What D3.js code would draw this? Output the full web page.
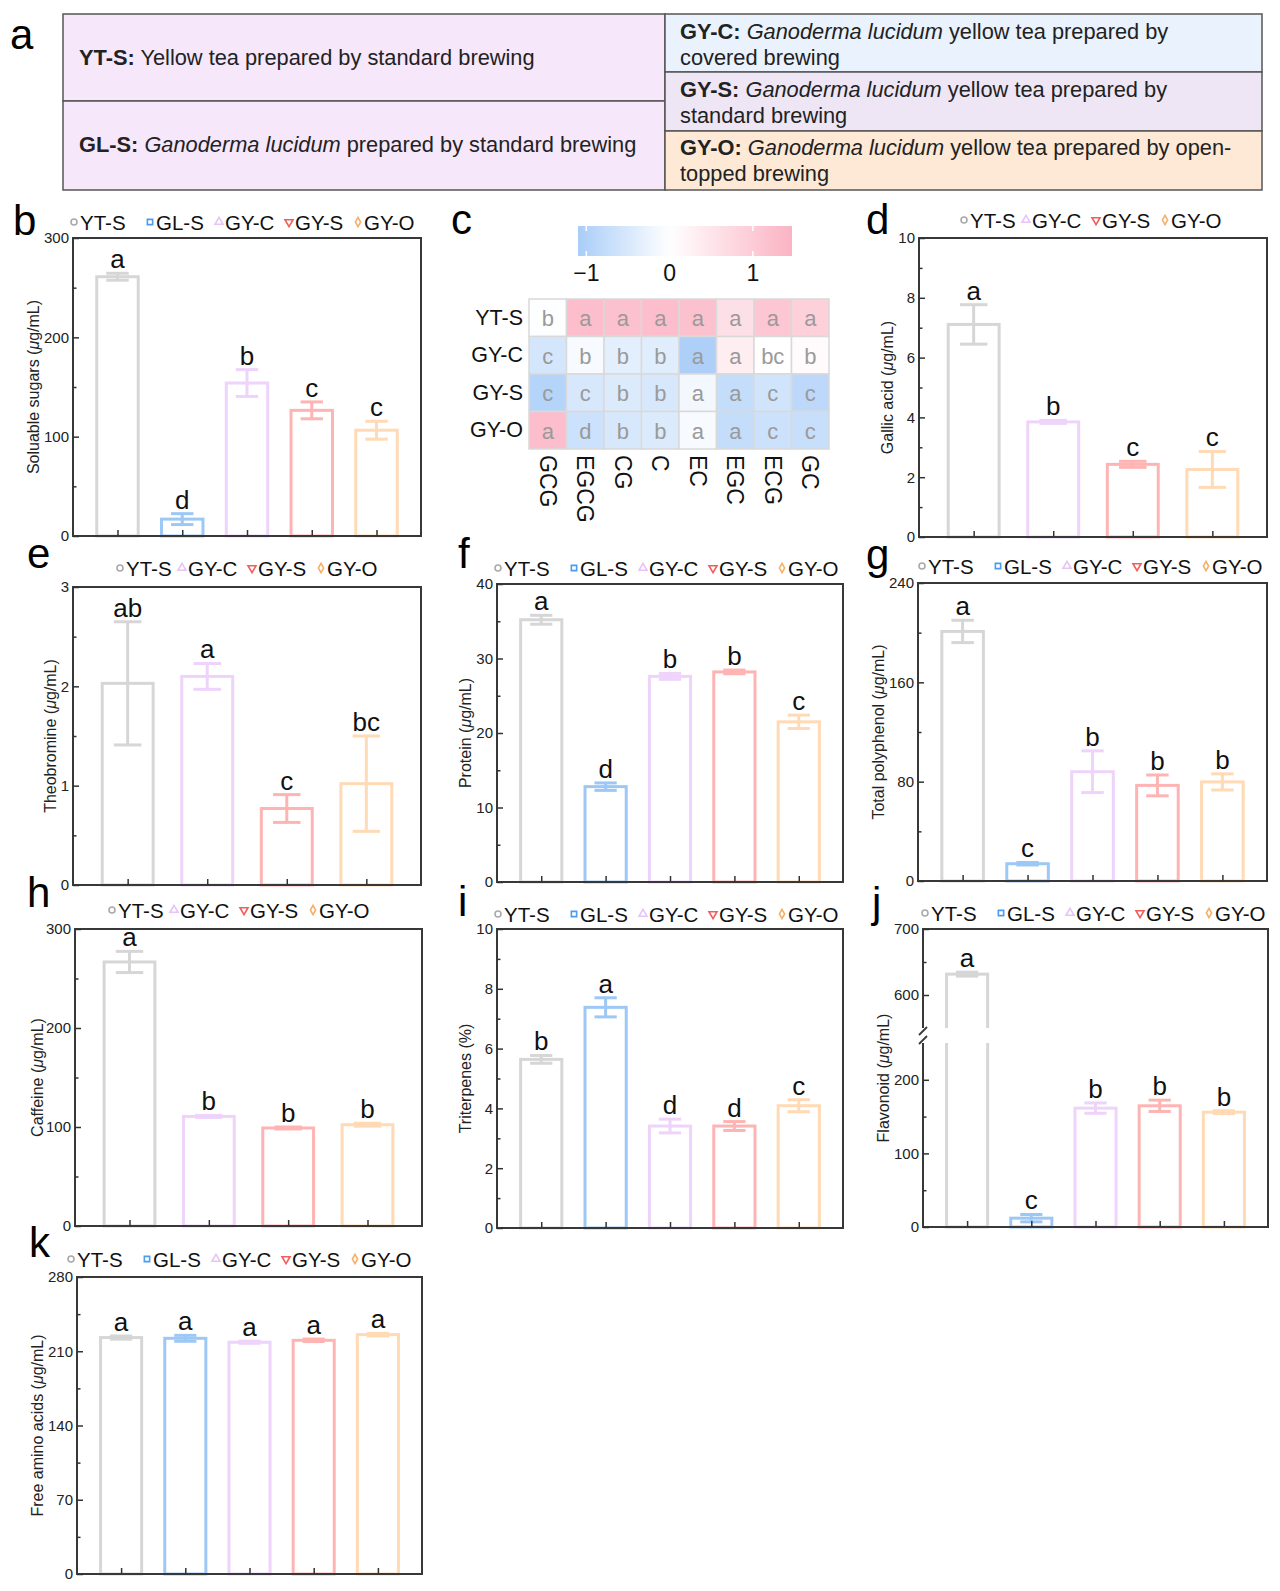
<!DOCTYPE html>
<html>
<head>
<meta charset="utf-8">
<script src="https://cdn.jsdelivr.net/npm/d3@7"></script>
<style>
  body { margin: 0; background: #fff; }
  svg { font-family: "Liberation Sans", Arial, sans-serif; }
</style>
</head>
<body>
<div id="fig"></div>
<script>
// ---- data ----
const groups5 = ["YT-S", "GL-S", "GY-C", "GY-S", "GY-O"];
const groups4 = ["YT-S", "GY-C", "GY-S", "GY-O"];

const sugarMean = [261, 17, 154, 126.5, 106.5];
const sugarErr = [3.5, 5.5, 13.5, 8.5, 9];
const sugarSig = ["a", "d", "b", "c", "c"];

const gallicMean = [7.11, 3.85, 2.43, 2.26];
const gallicErr = [0.66, 0.05, 0.1, 0.6];
const gallicSig = ["a", "b", "c", "c"];

const theoMean = [2.03, 2.10, 0.77, 1.02];
const theoErr = [0.62, 0.13, 0.14, 0.48];
const theoSig = ["ab", "a", "c", "bc"];

const proteinMean = [35.2, 12.8, 27.6, 28.2, 21.5];
const proteinErr = [0.6, 0.5, 0.4, 0.25, 0.9];
const proteinSig = ["a", "d", "b", "b", "c"];

const polyMean = [201, 13.9, 88, 77, 79.8];
const polyErr = [9, 1, 16.8, 8.4, 6.5];
const polySig = ["a", "c", "b", "b", "b"];

const caffMean = [266.7, 110.7, 99, 102.3];
const caffErr = [10.7, 1, 1, 1.5];
const caffSig = ["a", "b", "b", "b"];

const triMean = [5.64, 7.38, 3.41, 3.41, 4.09];
const triErr = [0.13, 0.32, 0.23, 0.15, 0.2];
const triSig = ["b", "a", "d", "d", "c"];

const flavMean = [631.6, 12, 161.5, 164.7, 156];
const flavErr = [3, 5, 7, 7.7, 2];
const flavSig = ["a", "c", "b", "b", "b"];

const aminoMean = [222.9, 222.2, 218.5, 220.3, 225.7];
const aminoErr = [1.5, 2.8, 1, 1.2, 1.2];
const aminoSig = ["a", "a", "a", "a", "a"];

// heatmap (row-scaled catechin values)
const catechins = ["GCG", "EGCG", "CG", "C", "EC", "EGC", "ECG", "GC"];
const heatRows = ["YT-S", "GY-C", "GY-S", "GY-O"];
const heatZ = [
  [-0.03, 1.25, 1.2, 1.25, 1.2, 0.6, 1.1, 0.9],
  [-0.55, -0.1, -0.35, -0.4, -1.05, 0.35, 0.0, 0.1],
  [-0.95, -0.5, -0.45, -0.5, -0.15, -0.75, -0.6, -0.85],
  [1.25, -0.65, -0.5, -0.45, -0.1, -0.75, -0.65, -0.7]
];
const heatSig = [
  ["b", "a", "a", "a", "a", "a", "a", "a"],
  ["c", "b", "b", "b", "a", "a", "bc", "b"],
  ["c", "c", "b", "b", "a", "a", "c", "c"],
  ["a", "d", "b", "b", "a", "a", "c", "c"]
];
const colorTicks = [-1, 0, 1];

// panel a texts: [text, style] segments, one array per line
const tableLines = {
  "YT-S": [[["YT-S:", "b"], [" Yellow tea prepared by standard brewing", "n"]]],
  "GL-S": [[["GL-S:", "b"], [" ", "n"], ["Ganoderma lucidum", "i"], [" prepared by standard brewing", "n"]]],
  "GY-C": [[["GY-C:", "b"], [" ", "n"], ["Ganoderma lucidum", "i"], [" yellow tea prepared by", "n"]], [["covered brewing", "n"]]],
  "GY-S": [[["GY-S:", "b"], [" ", "n"], ["Ganoderma lucidum", "i"], [" yellow tea prepared by", "n"]], [["standard brewing", "n"]]],
  "GY-O": [[["GY-O:", "b"], [" ", "n"], ["Ganoderma lucidum", "i"], [" yellow tea prepared by open-", "n"]], [["topped brewing", "n"]]]
};

const barColor = { "YT-S": "#d6d6d6", "GL-S": "#9dc8f6", "GY-C": "#eed3fa", "GY-S": "#ffb4b4", "GY-O": "#ffdab4" };
const markColor = { "YT-S": "#a9a9a9", "GL-S": "#4b9bf2", "GY-C": "#e6c4f7", "GY-S": "#f25d5d", "GY-O": "#f5b06a" };
const markType = { "YT-S": "circle", "GL-S": "square", "GY-C": "up", "GY-S": "down", "GY-O": "diamond" };

const width = 1280, height = 1591;
const svg = d3.select("#fig").append("svg")
  .attr("width", width).attr("height", height)
  .attr("viewBox", [0, 0, width, height]);

function panelLetter(t, x, y) {
  svg.append("text").attr("x", x).attr("y", y)
    .attr("font-size", 42).attr("fill", "#000").text(t);
}

// ---- panel a ----
const tableCells = [
  { key: "YT-S", x: 63, y: 14, w: 602, h: 87, fill: "#f6e7fb", tx: 79, ty: [65] },
  { key: "GL-S", x: 63, y: 101, w: 602, h: 89, fill: "#f6e7fb", tx: 79, ty: [152] },
  { key: "GY-C", x: 665, y: 14, w: 597, h: 58, fill: "#e9f2fd", tx: 680, ty: [39, 65] },
  { key: "GY-S", x: 665, y: 72, w: 597, h: 59, fill: "#efe6f5", tx: 680, ty: [97, 123] },
  { key: "GY-O", x: 665, y: 131, w: 597, h: 59, fill: "#fde9d6", tx: 680, ty: [155, 181] }
];
tableCells.forEach(c => {
  svg.append("rect").attr("x", c.x).attr("y", c.y).attr("width", c.w).attr("height", c.h)
    .attr("fill", c.fill).attr("stroke", "#555").attr("stroke-width", 1.5);
  tableLines[c.key].forEach((line, li) => {
    const t = svg.append("text").attr("x", c.tx).attr("y", c.ty[li])
      .attr("font-size", 21.8).attr("fill", "#222").attr("xml:space", "preserve");
    line.forEach(([s, st]) => {
      t.append("tspan").text(s)
        .attr("font-weight", st === "b" ? "bold" : null)
        .attr("font-style", st === "i" ? "italic" : null);
    });
  });
});
panelLetter("a", 10, 49);

// ---- bar panels ----
function legendMark(g, type, x, y, color) {
  const shape = { circle: d3.symbolCircle, square: d3.symbolSquare, up: d3.symbolTriangle,
    down: d3.symbolTriangle, diamond: d3.symbolDiamond }[type];
  g.append("path")
    .attr("d", d3.symbol().type(shape).size(type === "diamond" ? 24 : 28)())
    .attr("transform", `translate(${x},${y})` + (type === "down" ? " rotate(180)" : ""))
    .attr("fill", "#fff").attr("stroke", color).attr("stroke-width", 1.6);
}

function barPanel(p) {
  const g = svg.append("g");
  const x = d3.scalePoint().domain(p.groups).range([p.x0, p.x1]).padding(0.687);
  const bw = x.step() * 0.64, cap = bw * 0.54;
  const segs = p.segments.map(s => Object.assign({}, s, {
    sc: d3.scaleLinear().domain(s.domain).range(s.range)
  }));
  const y = v => {
    let s = segs[0];
    for (const t of segs) if (v >= t.domain[0]) s = t;
    return s.sc(v);
  };
  const rows = p.groups.map((k, i) => ({ k, m: p.mean[i], e: p.err[i], s: p.sig[i] }));

  g.selectAll(".bar").data(rows).join("rect")
    .attr("x", d => x(d.k) - bw / 2).attr("y", d => y(d.m))
    .attr("width", bw).attr("height", d => y(0) - y(d.m))
    .attr("fill", "#fff").attr("stroke", d => barColor[d.k]).attr("stroke-width", 3);

  const eb = g.selectAll(".err").data(rows).join("g").attr("stroke", d => barColor[d.k]).attr("stroke-width", 3);
  eb.append("line").attr("x1", d => x(d.k)).attr("x2", d => x(d.k))
    .attr("y1", d => y(d.m - d.e)).attr("y2", d => y(d.m + d.e));
  eb.append("line").attr("x1", d => x(d.k) - cap / 2).attr("x2", d => x(d.k) + cap / 2)
    .attr("y1", d => y(d.m + d.e)).attr("y2", d => y(d.m + d.e));
  eb.append("line").attr("x1", d => x(d.k) - cap / 2).attr("x2", d => x(d.k) + cap / 2)
    .attr("y1", d => y(d.m - d.e)).attr("y2", d => y(d.m - d.e));

  g.selectAll(".sig").data(rows).join("text")
    .attr("x", d => x(d.k)).attr("y", d => y(d.m + d.e) - 5)
    .attr("text-anchor", "middle").attr("font-size", 26).attr("fill", "#111")
    .text(d => d.s);

  // frame
  g.append("rect").attr("x", p.x0).attr("y", p.y0)
    .attr("width", p.x1 - p.x0).attr("height", p.y1 - p.y0)
    .attr("fill", "none").attr("stroke", "#383838").attr("stroke-width", 2);

  // axis break
  if (segs.length > 1) {
    const gTop = segs[1].range[0], gBot = segs[0].range[1];
    g.append("rect").attr("x", p.x0 - 5).attr("y", gTop)
      .attr("width", p.x1 - p.x0 + 3).attr("height", gBot - gTop).attr("fill", "#fff");
    [gTop + 3, gBot - 3].forEach(yy => {
      g.append("line").attr("x1", p.x0 - 4).attr("x2", p.x0 + 4)
        .attr("y1", yy + 4).attr("y2", yy - 4)
        .attr("stroke", "#383838").attr("stroke-width", 1.8);
    });
  }

  segs.forEach(s => {
    g.append("g").attr("transform", `translate(${p.x0},0)`)
      .call(d3.axisLeft(s.sc).tickValues(s.major).tickSize(-6).tickPadding(4).tickFormat(d3.format("d")))
      .call(a => a.select(".domain").remove())
      .attr("font-size", 15).attr("font-family", null).attr("color", "#333")
      .call(a => a.selectAll("line").attr("stroke-width", 1.5))
      .call(a => a.selectAll("text").attr("fill", "#222"));
    g.append("g").attr("transform", `translate(${p.x0},0)`)
      .call(d3.axisLeft(s.sc).tickValues(s.minor).tickSize(-3.5).tickFormat(""))
      .call(a => a.select(".domain").remove())
      .attr("color", "#333")
      .call(a => a.selectAll("line").attr("stroke-width", 1.5));
  });

  g.append("g").attr("transform", `translate(0,${p.y1})`)
    .call(d3.axisBottom(x).tickSize(-6).tickSizeOuter(0).tickFormat(""))
    .call(a => a.select(".domain").remove())
    .attr("color", "#333")
    .call(a => a.selectAll("line").attr("stroke-width", 1.5));

  // y title
  const tt = g.append("text")
    .attr("transform", `translate(${p.titleX},${(p.y0 + p.y1) / 2}) rotate(-90)`)
    .attr("text-anchor", "middle").attr("dominant-baseline", "central")
    .attr("font-size", 16).attr("fill", "#222");
  tt.append("tspan").text(p.title);
  if (p.unit) {
    tt.append("tspan").text(" (");
    tt.append("tspan").attr("font-style", "italic").text("\u03bc");
    tt.append("tspan").text("g/mL)");
  }

  // legend
  const offs = p.groups.length === 5 ? [0, 76, 145, 215, 284] : [0, 62, 132, 201];
  p.groups.forEach((k, i) => {
    const mx = p.legendX + offs[i];
    legendMark(g, markType[k], mx, p.legendY - 8, markColor[k]);
    g.append("text").attr("x", mx + 6).attr("y", p.legendY)
      .attr("font-size", 20.5).attr("fill", "#111").text(k);
  });

  panelLetter(p.letter, p.labelX, p.labelY);
}

const one = (domain, r, major, minor) => [{ domain, range: r, major, minor }];

barPanel({ letter: "b", groups: groups5, mean: sugarMean, err: sugarErr, sig: sugarSig,
  x0: 73, x1: 421, y0: 238, y1: 536,
  segments: one([0, 300], [536, 238], [0, 100, 200, 300], [50, 150, 250]),
  title: "Soluable sugars", unit: true, titleX: 33, legendX: 74, legendY: 230, labelX: 13, labelY: 235 });

barPanel({ letter: "d", groups: groups4, mean: gallicMean, err: gallicErr, sig: gallicSig,
  x0: 919, x1: 1267, y0: 238, y1: 537,
  segments: one([0, 10], [537, 238], [0, 2, 4, 6, 8, 10], [1, 3, 5, 7, 9]),
  title: "Gallic acid", unit: true, titleX: 887, legendX: 964, legendY: 228, labelX: 866, labelY: 234 });

barPanel({ letter: "e", groups: groups4, mean: theoMean, err: theoErr, sig: theoSig,
  x0: 73, x1: 421, y0: 587, y1: 885,
  segments: one([0, 3], [885, 587], [0, 1, 2, 3], [0.5, 1.5, 2.5]),
  title: "Theobromine", unit: true, titleX: 50, legendX: 120, legendY: 576, labelX: 27, labelY: 568 });

barPanel({ letter: "f", groups: groups5, mean: proteinMean, err: proteinErr, sig: proteinSig,
  x0: 497, x1: 843, y0: 584, y1: 882,
  segments: one([0, 40], [882, 584], [0, 10, 20, 30, 40], [5, 15, 25, 35]),
  title: "Protein", unit: true, titleX: 465, legendX: 498, legendY: 576, labelX: 458, labelY: 568 });

barPanel({ letter: "g", groups: groups5, mean: polyMean, err: polyErr, sig: polySig,
  x0: 918, x1: 1267, y0: 583, y1: 881,
  segments: one([0, 240], [881, 583], [0, 80, 160, 240], [40, 120, 200]),
  title: "Total polyphenol", unit: true, titleX: 878, legendX: 922, legendY: 574, labelX: 866, labelY: 569 });

barPanel({ letter: "h", groups: groups4, mean: caffMean, err: caffErr, sig: caffSig,
  x0: 75, x1: 422, y0: 929, y1: 1226,
  segments: one([0, 300], [1226, 929], [0, 100, 200, 300], [50, 150, 250]),
  title: "Caffeine", unit: true, titleX: 37, legendX: 112, legendY: 918, labelX: 27, labelY: 907 });

barPanel({ letter: "i", groups: groups5, mean: triMean, err: triErr, sig: triSig,
  x0: 497, x1: 843, y0: 929, y1: 1228,
  segments: one([0, 10], [1228, 929], [0, 2, 4, 6, 8, 10], [1, 3, 5, 7, 9]),
  title: "Triterpenes (%)", unit: false, titleX: 465, legendX: 498, legendY: 922, labelX: 458, labelY: 916 });

barPanel({ letter: "j", groups: groups5, mean: flavMean, err: flavErr, sig: flavSig,
  x0: 923, x1: 1268, y0: 929, y1: 1227,
  segments: [
    { domain: [0, 250], range: [1227, 1043], major: [0, 100, 200], minor: [50, 150] },
    { domain: [550, 700], range: [1028, 929], major: [600, 700], minor: [650] }
  ],
  title: "Flavonoid", unit: true, titleX: 883, legendX: 925, legendY: 921, labelX: 872, labelY: 917 });

barPanel({ letter: "k", groups: groups5, mean: aminoMean, err: aminoErr, sig: aminoSig,
  x0: 77, x1: 422, y0: 1277, y1: 1574,
  segments: one([0, 280], [1574, 1277], [0, 70, 140, 210, 280], [35, 105, 175, 245]),
  title: "Free amino acids", unit: true, titleX: 37, legendX: 71, legendY: 1267, labelX: 29, labelY: 1257 });

// ---- panel c: heatmap ----
const heatColor = d3.scaleLinear().domain([-1.1, 0, 1.47])
  .range(["#a9cdf8", "#ffffff", "#fbb3c3"]).clamp(true);
const hx = d3.scaleBand().domain(catechins).range([529, 829]);
const hy = d3.scaleBand().domain(heatRows).range([299, 449]);
const hc = svg.append("g");
const cells = [];
heatRows.forEach((r, i) => catechins.forEach((c, j) =>
  cells.push({ r, c, z: heatZ[i][j], s: heatSig[i][j] })));
hc.selectAll("rect").data(cells).join("rect")
  .attr("x", d => hx(d.c)).attr("y", d => hy(d.r))
  .attr("width", hx.bandwidth()).attr("height", hy.bandwidth())
  .attr("fill", d => heatColor(d.z)).attr("stroke", "#d9d9d9").attr("stroke-width", 1.5);
hc.selectAll(".cs").data(cells).join("text")
  .attr("x", d => hx(d.c) + hx.bandwidth() / 2).attr("y", d => hy(d.r) + hy.bandwidth() / 2 + 1)
  .attr("text-anchor", "middle").attr("dominant-baseline", "central")
  .attr("font-size", 22).attr("fill", "#9a9a9a").text(d => d.s);
hc.selectAll(".rl").data(heatRows).join("text")
  .attr("x", 523).attr("y", d => hy(d) + hy.bandwidth() / 2)
  .attr("text-anchor", "end").attr("dominant-baseline", "central")
  .attr("font-size", 21.5).attr("fill", "#111").text(d => d);
hc.selectAll(".cl").data(catechins).join("text")
  .attr("transform", d => `translate(${hx(d) + hx.bandwidth() / 2},455) rotate(90)`)
  .attr("text-anchor", "start").attr("dominant-baseline", "central")
  .attr("font-size", 23).attr("fill", "#111").text(d => d);

// colour bar
const cb = d3.scaleLinear().domain([-1.1, 1.47]).range([578, 792]);
const grad = svg.append("defs").append("linearGradient").attr("id", "cbar");
d3.range(0, 1.0001, 0.05).forEach(t => {
  grad.append("stop").attr("offset", t)
    .attr("stop-color", heatColor(cb.invert(578 + t * 214)));
});
svg.append("rect").attr("x", 578).attr("y", 226).attr("width", 214).attr("height", 30)
  .attr("fill", "url(#cbar)");
colorTicks.forEach(v => {
  [[226, 231], [251, 256]].forEach(([a, b]) => {
    svg.append("line").attr("x1", cb(v)).attr("x2", cb(v)).attr("y1", a).attr("y2", b)
      .attr("stroke", "#fff").attr("stroke-width", 1.5);
  });
});
svg.selectAll(".cbt").data(colorTicks).join("text")
  .attr("x", d => cb(d)).attr("y", 281).attr("text-anchor", "middle")
  .attr("font-size", 23).attr("fill", "#111").text(d3.format(""));
panelLetter("c", 451, 234);
</script>
</body>
</html>
